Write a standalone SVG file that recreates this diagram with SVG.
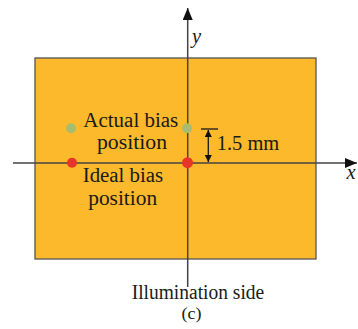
<svg xmlns="http://www.w3.org/2000/svg" width="358" height="329" viewBox="0 0 358 329">
<style>
.t{font-family:"Liberation Serif","Times New Roman",serif;font-size:20.5px;fill:#1a1a1a}
.it{font-style:italic}
.ax{stroke:#444;stroke-width:1.5;fill:none}
.dim{stroke:#1a1a1a;stroke-width:1.3;fill:none}
</style>
<defs>
<marker id="ah" viewBox="0 0 12 10" refX="12" refY="5" markerWidth="12" markerHeight="10" markerUnits="userSpaceOnUse" orient="auto">
<path d="M0,0 L12,5 L0,10 z" fill="#111"/>
</marker>
<marker id="sh" viewBox="0 0 8 8" refX="8" refY="4" markerWidth="7" markerHeight="7" markerUnits="userSpaceOnUse" orient="auto-start-reverse">
<path d="M0,0 L8,4 L0,8 z" fill="#111"/>
</marker>
</defs>
<g id="plate">
<rect x="35" y="58" width="281" height="201" fill="#FBB92B" stroke="#555" stroke-width="1.3"/>
</g>
<g id="connectors">
<line class="ax" x1="187.7" y1="287" x2="187.7" y2="8" marker-end="url(#ah)"/>
<line class="ax" x1="13" y1="163" x2="357" y2="163" marker-end="url(#ah)"/>
<line class="dim" x1="201" y1="129" x2="218" y2="129"/>
<line class="dim" x1="208.3" y1="130" x2="208.3" y2="162" marker-start="url(#sh)" marker-end="url(#sh)"/>
</g>
<g id="axis-labels">
<text class="t it" x="192" y="43">y</text>
<text class="t it" x="346.5" y="179">x</text>
</g>
<g id="actual-bias">
<circle cx="71" cy="128.3" r="5" fill="#A7BD6E"/>
<circle cx="187" cy="128.3" r="5" fill="#A7BD6E"/>
<text class="t" x="83.3" y="127.2" textLength="95" lengthAdjust="spacingAndGlyphs">Actual bias</text>
<text class="t" x="97" y="148.5" textLength="70" lengthAdjust="spacingAndGlyphs">position</text>
</g>
<g id="ideal-bias">
<circle cx="72" cy="162.7" r="5" fill="#E8352A"/>
<circle cx="187.5" cy="162.7" r="5.5" fill="#E8352A"/>
<text class="t" x="82.7" y="182.3" textLength="80.5" lengthAdjust="spacingAndGlyphs">Ideal bias</text>
<text class="t" x="88.2" y="205" textLength="69" lengthAdjust="spacingAndGlyphs">position</text>
</g>
<g id="dimension-label">
<text class="t" x="216.7" y="150" textLength="62.6" lengthAdjust="spacingAndGlyphs">1.5 mm</text>
</g>
<g id="caption">
<text class="t" x="131.7" y="298.8" style="font-size:20px" textLength="132.5" lengthAdjust="spacingAndGlyphs">Illumination side</text>
<text class="t" x="181.5" y="318.5" style="font-size:17px" textLength="20" lengthAdjust="spacingAndGlyphs">(c)</text>
</g>
</svg>
